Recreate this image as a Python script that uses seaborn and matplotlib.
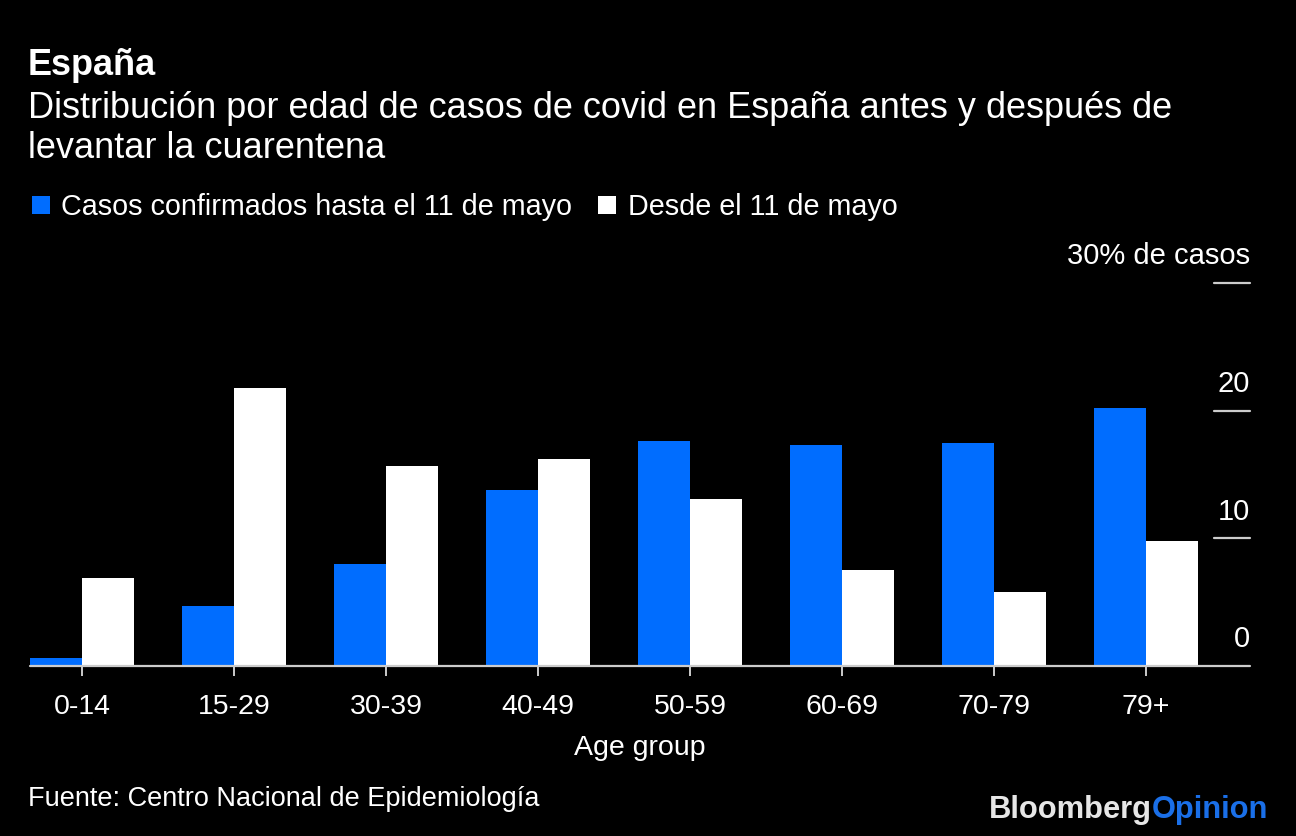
import matplotlib
matplotlib.use("Agg")
import matplotlib.pyplot as plt
import seaborn as sns
import pandas as pd
from matplotlib.transforms import blended_transform_factory
from matplotlib.patches import Patch

age_groups = ["0-14", "15-29", "30-39", "40-49", "50-59", "60-69", "70-79", "79+"]
hasta_11_mayo = [0.6, 4.7, 8.0, 13.8, 17.6, 17.3, 17.5, 20.2]
desde_11_mayo = [6.9, 21.8, 15.7, 16.2, 13.1, 7.5, 5.8, 9.8]
series_names = ["Casos confirmados hasta el 11 de mayo", "Desde el 11 de mayo"]
y_ticks = [0, 10, 20, 30]
y_tick_labels = ["0", "10", "20", "30% de casos"]

df = pd.DataFrame({
    "age": age_groups * 2,
    "value": hasta_11_mayo + desde_11_mayo,
    "series": [series_names[0]] * len(age_groups) + [series_names[1]] * len(age_groups),
})

BLUE = "#006dff"
BG = "black"
FG = "white"
GREY = "#cccccc"

sns.set_theme(style="dark")
plt.rcParams["font.family"] = ["Liberation Sans", "DejaVu Sans"]

W, H = 1296, 836
fig = plt.figure(figsize=(W / 100, H / 100), dpi=100, facecolor=BG)
ax = fig.add_axes([30 / W, (H - 666) / H, 1220 / W, (666 - 283) / H])
ax.set_facecolor(BG)

sns.barplot(data=df, x="age", y="value", hue="series", order=age_groups,
            hue_order=series_names, palette=[BLUE, FG], width=0.684,
            gap=0, saturation=1, linewidth=0, ax=ax, legend=False)

ax.set_xlim(-0.342, 7.684)
ax.set_ylim(0, 30)
for s in ax.spines.values():
    s.set_visible(False)
ax.grid(False)
ax.set_yticks([])
ax.set_ylabel("")

# baseline
ax.axhline(0, color=GREY, lw=1.6, zorder=5, clip_on=False)

# right-side ticks with labels above
tr = blended_transform_factory(ax.transAxes, ax.transData)
for v in y_ticks[1:]:
    ax.plot([1 - 36 / 1220, 1.0], [v, v], color=GREY, lw=1.6, transform=tr, clip_on=False)
for v, lab in zip(y_ticks, y_tick_labels):
    ax.text(1.0, v + 1.45, lab, transform=tr, ha="right", va="baseline",
            color=FG, fontsize=21)

ax.tick_params(axis="x", colors=GREY, length=7, width=1.4, direction="out",
               pad=13, labelsize=20.5, labelcolor=FG, bottom=True)
ax.set_xlabel("Age group", color=FG, fontsize=20.5, labelpad=11)

# titles
fig.text(28 / W, 1 - 75 / H, "España", color=FG, fontsize=26, fontweight="bold",
         va="baseline", ha="left")
fig.text(28 / W, 1 - 118 / H, "Distribución por edad de casos de covid en España antes y después de",
         color=FG, fontsize=26, va="baseline", ha="left")
fig.text(28 / W, 1 - 158 / H, "levantar la cuarentena",
         color=FG, fontsize=26, va="baseline", ha="left")

# legend
handles = [Patch(facecolor=BLUE, edgecolor="none"), Patch(facecolor=FG, edgecolor="none")]
fig.legend(handles, series_names, loc="center left", bbox_to_anchor=(32 / W, 1 - 207 / H),
           ncol=2, frameon=False, fontsize=20.7, labelcolor=FG, handlelength=0.62,
           handleheight=0.62, handletextpad=0.4, columnspacing=0.9, borderpad=0,
           borderaxespad=0)

# source
fig.text(28 / W, 1 - 806 / H, "Fuente: Centro Nacional de Epidemiología", color=FG,
         fontsize=19.5, va="baseline", ha="left")

# logo
t1 = fig.text(1268 / W, 1 - 818 / H, "Opinion", color="#1a6fe8", fontsize=22.2,
              fontweight="bold", va="baseline", ha="right")
fig.canvas.draw()
bb = t1.get_window_extent()
fig.text(bb.x0 / W, 1 - 818 / H, "Bloomberg", color="#e6e6e6", fontsize=22.2,
         fontweight="bold", va="baseline", ha="right")

fig.savefig("out.png", dpi=100, facecolor=BG)
